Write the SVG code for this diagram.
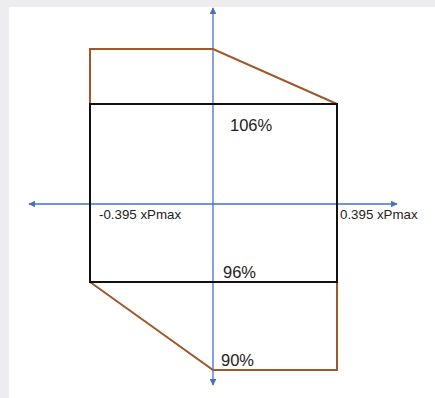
<svg xmlns="http://www.w3.org/2000/svg" width="435" height="398" viewBox="0 0 435 398">
<defs>
<style>
.axis{stroke:#4472c4;stroke-width:1.3;fill:none}
.brown{stroke:#a0582a;stroke-width:2;fill:none;stroke-linejoin:miter}
.box{stroke:#111;stroke-width:2;fill:none}
.pct{font-family:"Liberation Sans",Arial,sans-serif;font-size:16.5px;fill:#222}
.lbl{font-family:"Liberation Sans",Arial,sans-serif;font-size:13.3px;fill:#222}
</style>
<marker id="ah" viewBox="0 0 10 10" refX="9" refY="5" markerWidth="7" markerHeight="7" markerUnits="userSpaceOnUse" orient="auto-start-reverse">
<path d="M0,0 L10,5 L0,10 z" fill="#4472c4"/>
</marker>
</defs>
<rect x="0" y="0" width="435" height="398" fill="#ededf0"/>
<rect x="9" y="7" width="426" height="391" fill="#ffffff"/>
<g id="connectors">
<line class="axis" x1="213" y1="8" x2="213" y2="385" marker-start="url(#ah)" marker-end="url(#ah)"/>
<line class="axis" x1="29" y1="204" x2="397" y2="204" marker-start="url(#ah)" marker-end="url(#ah)"/>
</g>
<g id="upper-envelope">
<polyline class="brown" points="90,104 90,49 213,49 337,104"/>
</g>
<g id="lower-envelope">
<polyline class="brown" points="90,282 213,370 337,370 337,282"/>
</g>
<g id="box">
<rect class="box" x="90" y="104" width="247" height="178"/>
</g>
<g id="labels">
<text class="pct" x="230" y="131">106%</text>
<text class="pct" x="223" y="278">96%</text>
<text class="pct" x="221" y="366">90%</text>
<text class="lbl" x="99" y="219">-0.395 xPmax</text>
<text class="lbl" x="340" y="219">0.395 xPmax</text>
</g>
</svg>
